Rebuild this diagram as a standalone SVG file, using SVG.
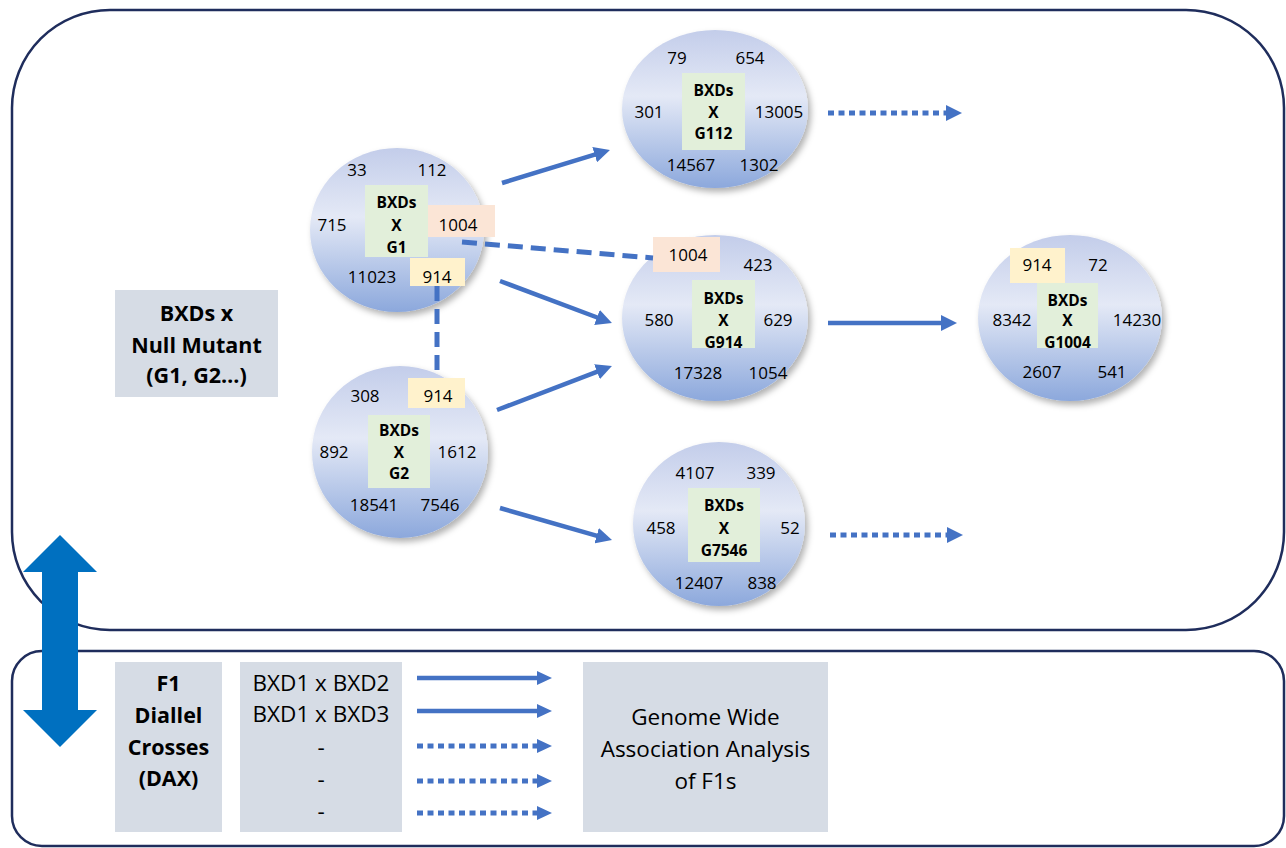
<svg xmlns="http://www.w3.org/2000/svg" width="1286" height="848" viewBox="0 0 1286 848">
<defs>
<linearGradient id="ball" x1="0" y1="0" x2="0" y2="1">
<stop offset="0" stop-color="#c3cdea"/>
<stop offset="0.42" stop-color="#e4e9f6"/>
<stop offset="1" stop-color="#8ca8dc"/>
</linearGradient>
<filter id="sh" x="-20%" y="-20%" width="140%" height="140%">
<feDropShadow dx="3" dy="4" stdDeviation="3" flood-color="#000" flood-opacity="0.3"/>
</filter>
<marker id="ah" viewBox="0 0 16 16" refX="6" refY="8" markerWidth="16" markerHeight="16" markerUnits="userSpaceOnUse" orient="auto">
<path d="M0,0 L16,8 L0,16 z" fill="#4472c4"/>
</marker>
<marker id="ahs" viewBox="0 0 15 14" refX="5" refY="7" markerWidth="15" markerHeight="14" markerUnits="userSpaceOnUse" orient="auto">
<path d="M0,0 L15,7 L0,14 z" fill="#4472c4"/>
</marker>
</defs>
<style>
text{font-family:'Open Sans','Liberation Sans',sans-serif;fill:#000;text-anchor:middle}
.n{font-size:17px}
.g{font-size:15.5px;font-weight:bold}
.big{font-size:22.5px}
.bb{font-size:21.5px;font-weight:bold}
.ball{fill:url(#ball);filter:url(#sh)}
.grn{fill:#e2efda}
.pch{fill:#fbe5d6}
.yel{fill:#fff2cc}
.gry{fill:#d6dce5}
.frame{fill:none;stroke:#1f2d5c;stroke-width:2.5}
.con{stroke:#4472c4;stroke-width:4.5;fill:none}
.dot{stroke-dasharray:6 4.5;stroke-width:5}
.dash{stroke-dasharray:15 8;stroke-width:5}
</style>
<rect id="frame-top" class="frame" x="12" y="10" width="1272" height="620" rx="98" ry="98"/>
<rect id="frame-bottom" class="frame" x="12" y="651" width="1272" height="195" rx="30" ry="30"/>
<g id="label-null">
<rect class="gry" x="115" y="290" width="163" height="107"/>
<text class="bb" x="196.5" y="321">BXDs x</text>
<text class="bb" x="196.5" y="353">Null Mutant</text>
<text class="bb" x="196.5" y="383">(G1, G2…)</text>
</g>
<g id="node-g1">
<ellipse class="ball" cx="397" cy="230" rx="87" ry="82"/>
<rect class="grn" x="365" y="185" width="63" height="72"/>
<rect class="pch" x="428" y="205" width="67" height="32"/>
<rect class="yel" x="410" y="258" width="55" height="28"/>
<text class="g" x="396.5" y="207.5">BXDs</text>
<text class="g" x="396.5" y="230.5">X</text>
<text class="g" x="396.5" y="252.5">G1</text>
<text class="n" x="357" y="176">33</text>
<text class="n" x="432" y="176">112</text>
<text class="n" x="332" y="231">715</text>
<text class="n" x="458" y="231">1004</text>
<text class="n" x="372" y="283">11023</text>
<text class="n" x="437" y="283">914</text>
</g>
<g id="node-g2">
<ellipse class="ball" cx="400" cy="452" rx="88" ry="86"/>
<rect class="yel" x="408" y="378" width="57" height="30"/>
<rect class="grn" x="368" y="415" width="62" height="73"/>
<text class="g" x="399" y="435.5">BXDs</text>
<text class="g" x="399" y="457.5">X</text>
<text class="g" x="399" y="478.5">G2</text>
<text class="n" x="365" y="402">308</text>
<text class="n" x="438" y="402">914</text>
<text class="n" x="334" y="458">892</text>
<text class="n" x="457" y="458">1612</text>
<text class="n" x="374" y="511">18541</text>
<text class="n" x="440" y="511">7546</text>
</g>
<g id="node-g112">
<ellipse class="ball" cx="715" cy="109" rx="93" ry="79"/>
<rect class="grn" x="682" y="73" width="63" height="77"/>
<text class="g" x="713.5" y="95.5">BXDs</text>
<text class="g" x="713.5" y="117.5">X</text>
<text class="g" x="713.5" y="138.5">G112</text>
<text class="n" x="677" y="64">79</text>
<text class="n" x="750" y="64">654</text>
<text class="n" x="649" y="118">301</text>
<text class="n" x="779" y="118">13005</text>
<text class="n" x="691" y="171">14567</text>
<text class="n" x="759" y="171">1302</text>
</g>
<g id="node-g914">
<ellipse class="ball" cx="715" cy="318" rx="93" ry="83"/>
<rect class="pch" x="653" y="237" width="67" height="35"/>
<rect class="grn" x="692" y="280" width="63" height="68"/>
<text class="g" x="723.5" y="303.5">BXDs</text>
<text class="g" x="723.5" y="325.5">X</text>
<text class="g" x="723.5" y="347.5">G914</text>
<text class="n" x="688" y="261">1004</text>
<text class="n" x="758" y="271">423</text>
<text class="n" x="659" y="326">580</text>
<text class="n" x="778" y="326">629</text>
<text class="n" x="698" y="379">17328</text>
<text class="n" x="768" y="379">1054</text>
</g>
<g id="node-g1004">
<ellipse class="ball" cx="1070" cy="318" rx="92" ry="83"/>
<rect class="yel" x="1010" y="248" width="55" height="35"/>
<rect class="grn" x="1037" y="283" width="61" height="65"/>
<text class="g" x="1067.5" y="305.5">BXDs</text>
<text class="g" x="1067.5" y="325.5">X</text>
<text class="g" x="1067.5" y="347.5">G1004</text>
<text class="n" x="1037" y="271">914</text>
<text class="n" x="1098" y="271">72</text>
<text class="n" x="1012" y="326">8342</text>
<text class="n" x="1137" y="326">14230</text>
<text class="n" x="1042" y="378">2607</text>
<text class="n" x="1112" y="378">541</text>
</g>
<g id="node-g7546">
<ellipse class="ball" cx="719" cy="524" rx="86" ry="82"/>
<rect class="grn" x="688" y="488" width="72" height="74"/>
<text class="g" x="724" y="510.5">BXDs</text>
<text class="g" x="724" y="533.5">X</text>
<text class="g" x="724" y="555.5">G7546</text>
<text class="n" x="695" y="479">4107</text>
<text class="n" x="761" y="479">339</text>
<text class="n" x="661" y="534">458</text>
<text class="n" x="790" y="534">52</text>
<text class="n" x="699" y="589">12407</text>
<text class="n" x="762" y="589">838</text>
</g>
<g id="label-f1">
<rect class="gry" x="115" y="662" width="107" height="170"/>
<text class="bb" x="168.5" y="691">F1</text>
<text class="bb" x="168.5" y="723">Diallel</text>
<text class="bb" x="168.5" y="755">Crosses</text>
<text class="bb" x="168.5" y="786">(DAX)</text>
</g>
<g id="list-crosses">
<rect class="gry" x="240" y="662" width="162" height="170"/>
<text class="big" x="321" y="691">BXD1 x BXD2</text>
<text class="big" x="321" y="722">BXD1 x BXD3</text>
<text class="big" x="321" y="755">-</text>
<text class="big" x="321" y="787">-</text>
<text class="big" x="321" y="819">-</text>
</g>
<g id="gwas">
<rect class="gry" x="583" y="662" width="245" height="170"/>
<text class="big" x="705.5" y="725">Genome Wide</text>
<text class="big" x="705.5" y="757">Association Analysis</text>
<text class="big" x="705.5" y="789">of F1s</text>
</g>
<g id="connectors">
<line class="con" x1="502" y1="183" x2="600.4" y2="152.9" marker-end="url(#ah)"/>
<line class="con" x1="500" y1="281" x2="602.6" y2="319.5" marker-end="url(#ah)"/>
<line class="con" x1="497" y1="410" x2="602.6" y2="369.6" marker-end="url(#ah)"/>
<line class="con" x1="500" y1="508" x2="602.4" y2="537.3" marker-end="url(#ah)"/>
<line class="con" x1="828" y1="323" x2="947" y2="323" marker-end="url(#ah)"/>
<line class="con dot" x1="828" y1="113" x2="952" y2="113" marker-end="url(#ah)"/>
<line class="con dot" x1="830" y1="535" x2="953" y2="535" marker-end="url(#ah)"/>
<line class="con dash" x1="462" y1="242" x2="653" y2="258"/>
<line class="con dash" x1="437" y1="286" x2="437" y2="378"/>
<line class="con" x1="417" y1="678" x2="542" y2="678" marker-end="url(#ahs)"/>
<line class="con" x1="417" y1="711" x2="542" y2="711" marker-end="url(#ahs)"/>
<line class="con dot" x1="417" y1="746" x2="542" y2="746" marker-end="url(#ahs)"/>
<line class="con dot" x1="417" y1="781" x2="542" y2="781" marker-end="url(#ahs)"/>
<line class="con dot" x1="417" y1="813" x2="542" y2="813" marker-end="url(#ahs)"/>
</g>
<g id="double-arrow">
<polygon points="60,535 97,572 78,572 78,710 97,710 60,747 23,710 42,710 42,572 23,572" fill="#0070c0"/>
</g>
</svg>
